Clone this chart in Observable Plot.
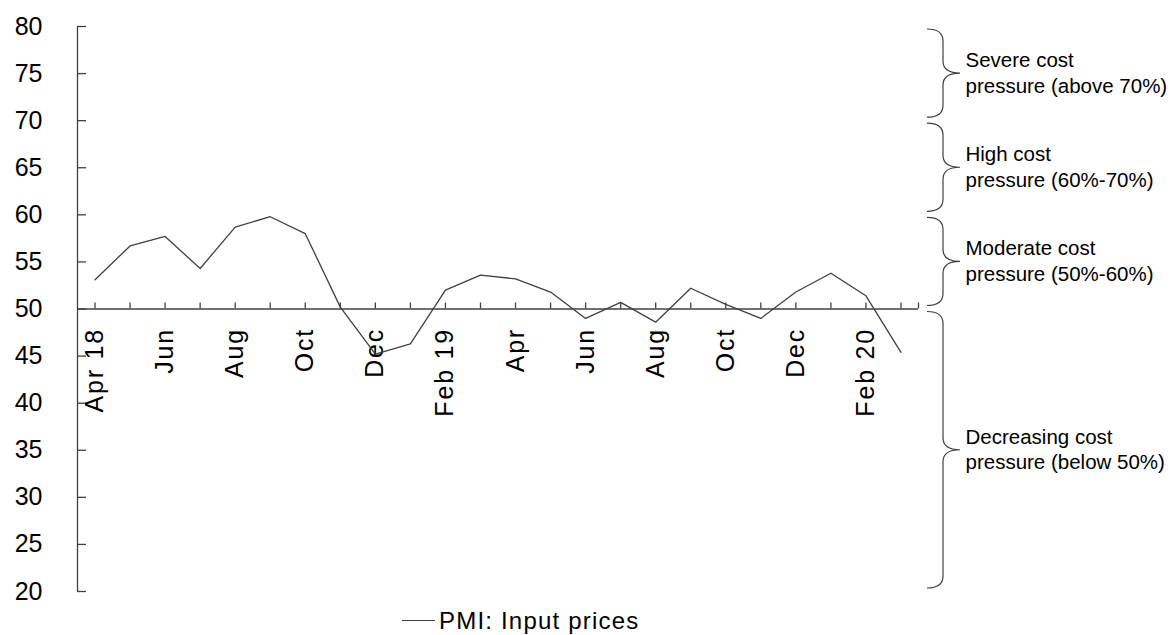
<!DOCTYPE html>
<html><head><meta charset="utf-8">
<script src="https://cdn.jsdelivr.net/npm/d3@7"></script>
<script src="https://cdn.jsdelivr.net/npm/@observablehq/plot@0.6"></script>
<style>
body{margin:0;background:#fff;font-family:"Liberation Sans",Arial,sans-serif;}
#legend{height:41px;display:flex;align-items:center;padding-left:402px;font-size:24px;color:#000;letter-spacing:1.2px}
#legend .sw{display:inline-block;width:33px;height:0;border-top:1.3px solid #404040;margin-right:4px}
svg text[transform*="rotate"]{letter-spacing:1.8px}
</style></head><body>
<div id="chart"></div>
<div id="legend"><span class="sw"></span><span>PMI: Input prices</span></div>
<script>
// ---- data ----
const months = ["Apr 18","May 18","Jun 18","Jul 18","Aug 18","Sep 18","Oct 18","Nov 18","Dec 18",
  "Jan 19","Feb 19","Mar 19","Apr 19","May 19","Jun 19","Jul 19","Aug 19","Sep 19","Oct 19","Nov 19","Dec 19",
  "Jan 20","Feb 20","Mar 20"];
const pmiInputPrices = [53.1,56.7,57.7,54.3,58.7,59.8,58.0,50.2,45.2,46.3,52.0,53.6,53.2,51.8,49.0,50.7,48.6,52.2,50.5,49.0,51.8,53.8,51.4,45.4];
const monthTickLabels = ["Apr 18","","Jun","","Aug","","Oct","","Dec","","Feb 19","","Apr","","Jun","","Aug","","Oct","","Dec","","Feb 20",""];
const yTicks = [20,25,30,35,40,45,50,55,60,65,70,75,80];
const xAxisAt = 50;
const bandLow = [70,60,50,20];
const bandHigh = [80,70,60,50];
const bandLabels = ["Severe cost\npressure (above 70%)","High cost\npressure (60%-70%)","Moderate cost\npressure (50%-60%)","Decreasing cost\npressure (below 50%)"];

// ---- tables built from the arrays ----
const rows = months.map((m, i) => ({i, month: m, value: pmiInputPrices[i], label: monthTickLabels[i]}));
const bands = bandLow.map((lo, k) => ({lo, hi: bandHigh[k], label: bandLabels[k]}));
const ink = "#404040";

function braces(index, scales, values, dimensions) {
  const g = d3.create("svg:g").attr("fill", "none").attr("stroke", ink).attr("stroke-width", 1.2);
  const xr = dimensions.width - dimensions.marginRight;
  const xa = xr + 9, xs = xr + 25, xt = xr + 42, r = 12;
  for (const b of bands) {
    const y0 = scales.y(b.hi) + 3, y1 = scales.y(b.lo) - 3, ym = (y0 + y1) / 2;
    const p = d3.path();
    p.moveTo(xa, y0);
    p.quadraticCurveTo(xs, y0, xs, y0 + r);
    p.lineTo(xs, ym - r);
    p.quadraticCurveTo(xs, ym, xt, ym);
    p.quadraticCurveTo(xs, ym, xs, ym + r);
    p.lineTo(xs, y1 - r);
    p.quadraticCurveTo(xs, y1, xa, y1);
    g.append("path").attr("d", p.toString());
  }
  return g.node();
}

const xStart = -0.5, xEnd = months.length - 0.5;

const chart = Plot.plot({
  width: 1174,
  height: 600,
  marginLeft: 77,
  marginRight: 256,
  marginTop: 26,
  marginBottom: 9,
  x: {domain: [xStart, xEnd], axis: null},
  y: {domain: [d3.min(yTicks), d3.max(yTicks)], axis: null},
  style: {fontFamily: "'Liberation Sans', Arial, sans-serif", background: "#fff", color: "#000", overflow: "visible"},
  marks: [
    // y axis line and ticks
    Plot.ruleX([xStart], {x: d => d, y1: d3.min(yTicks), y2: d3.max(yTicks), stroke: ink, strokeWidth: 1.3}),
    Plot.ruleY(yTicks, {y: d => d, x1: xStart, x2: xStart, insetRight: -9, stroke: ink, strokeWidth: 1.3}),
    Plot.text(yTicks, {y: d => d, frameAnchor: "left", dx: -35, textAnchor: "end", text: d => String(d), fontSize: 25, fill: "#000"}),
    // x axis at 50 with upward ticks
    Plot.ruleY([xAxisAt], {y: d => d, x1: xStart, x2: xEnd, stroke: ink, strokeWidth: 1.3}),
    Plot.ruleX(rows, {x: "i", y1: xAxisAt, y2: xAxisAt, insetTop: -6, stroke: ink, strokeWidth: 1.3}),
    Plot.ruleX([xEnd], {x: d => d, y1: xAxisAt, y2: xAxisAt, insetTop: -6, stroke: ink, strokeWidth: 1.3}),
    Plot.text(rows.filter(d => d.label), {x: "i", y: () => xAxisAt, text: "label", rotate: -90, textAnchor: "end", dy: 19, fontSize: 25, fill: "#000"}),
    // series
    Plot.line(rows, {x: "i", y: "value", stroke: ink, strokeWidth: 1.3}),
    // bracket annotations
    braces,
    Plot.text(bands, {y: d => (d.lo + d.hi) / 2, frameAnchor: "right", dx: 47, dy: -2, textAnchor: "start", lineAnchor: "middle", lineHeight: 1.25, text: "label", fontSize: 20.5, fill: "#000"})
  ]
});
document.getElementById("chart").appendChild(chart);
</script>
</body></html>
